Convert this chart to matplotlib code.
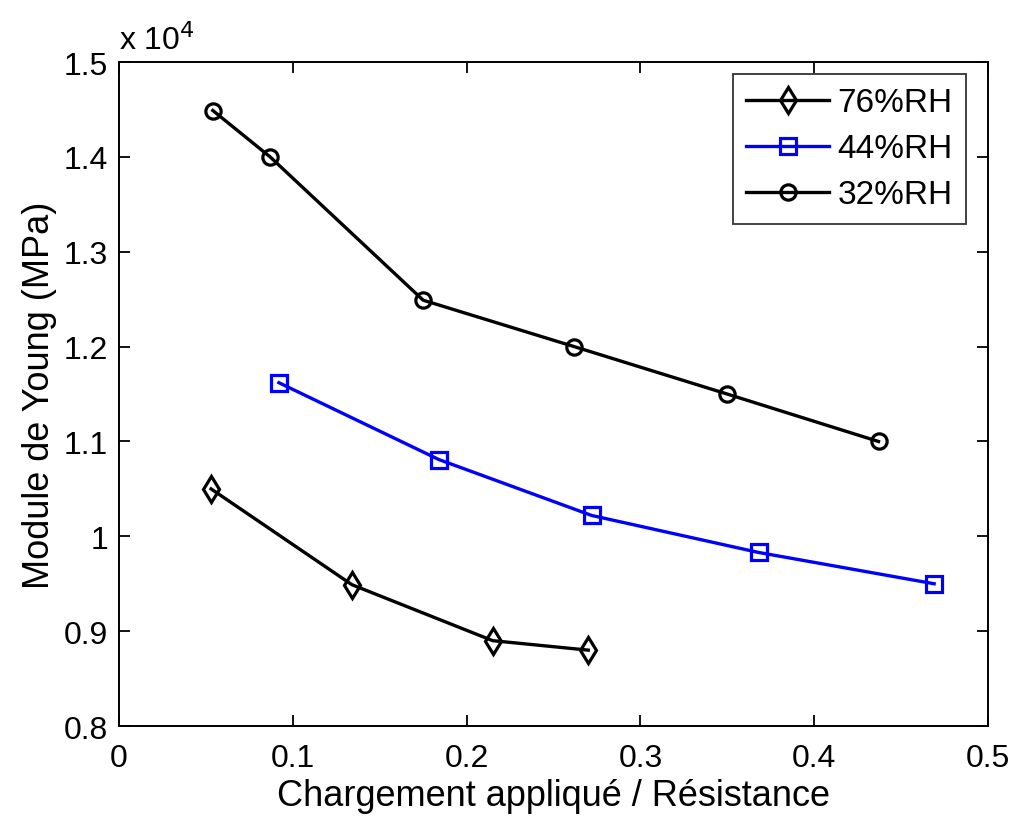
import numpy as np
import matplotlib
matplotlib.use('Agg')
import matplotlib.pyplot as plt
from matplotlib.ticker import FuncFormatter

plt.rcParams['font.family'] = ['Liberation Sans', 'DejaVu Sans']

# data (MPa)
x76 = [0.053, 0.134, 0.215, 0.270]
y76 = [10500, 9490, 8900, 8800]
x44 = [0.092, 0.184, 0.272, 0.368, 0.469]
y44 = [11620, 10810, 10220, 9830, 9500]
x32 = [0.054, 0.087, 0.175, 0.262, 0.350, 0.437]
y32 = [14490, 14000, 12490, 12000, 11500, 11000]
labels = ['76%RH', '44%RH', '32%RH']

fig = plt.figure(figsize=(10.17, 8.2), dpi=100)
ax = fig.add_axes([0.117, 0.1134, 0.8545, 0.8096])

kw = dict(lw=2.4, mew=2.3, mfc='none')
ax.plot(x76, y76, 'k-', marker='d', ms=13, label=labels[0], **kw)
ax.plot(x44, y44, '-', color='#0000ff', marker='s', ms=12, label=labels[1], **kw)
ax.plot(x32, y32, 'k-', marker='o', ms=11, label=labels[2], **kw)

ax.set_xlim(0, 0.5)
ax.set_ylim(8000, 15000)
ax.set_xticks(np.arange(0, 0.51, 0.1))
ax.set_yticks(np.arange(8000, 15001, 1000))
ax.xaxis.set_major_formatter(FuncFormatter(lambda v, p: '%g' % round(v, 3)))
ax.yaxis.set_major_formatter(FuncFormatter(lambda v, p: '%g' % round(v / 1e4, 3)))
ax.tick_params(direction='in', top=True, right=True, length=8, width=1.3,
               labelsize=23)
ax.tick_params(axis='x', pad=12)
ax.tick_params(axis='y', pad=8)
for s in ax.spines.values():
    s.set_linewidth(1.4)

ax.text(0.0, 1.01, r'x 10$^4$', transform=ax.transAxes, fontsize=23,
        ha='left', va='bottom')

ax.set_xlabel('Chargement appliqué / Résistance', fontsize=26, labelpad=4)
ax.set_ylabel('Module de Young (MPa)', fontsize=26, labelpad=5)

leg = ax.legend(loc='upper right', fontsize=24, frameon=True, fancybox=False,
                edgecolor='k', handlelength=2.5, borderpad=0.4,
                labelspacing=0.45, handletextpad=0.25, borderaxespad=0,
                bbox_to_anchor=(0.975, 0.982))
leg.get_frame().set_linewidth(1.3)

fig.savefig('out.png', dpi=100)
